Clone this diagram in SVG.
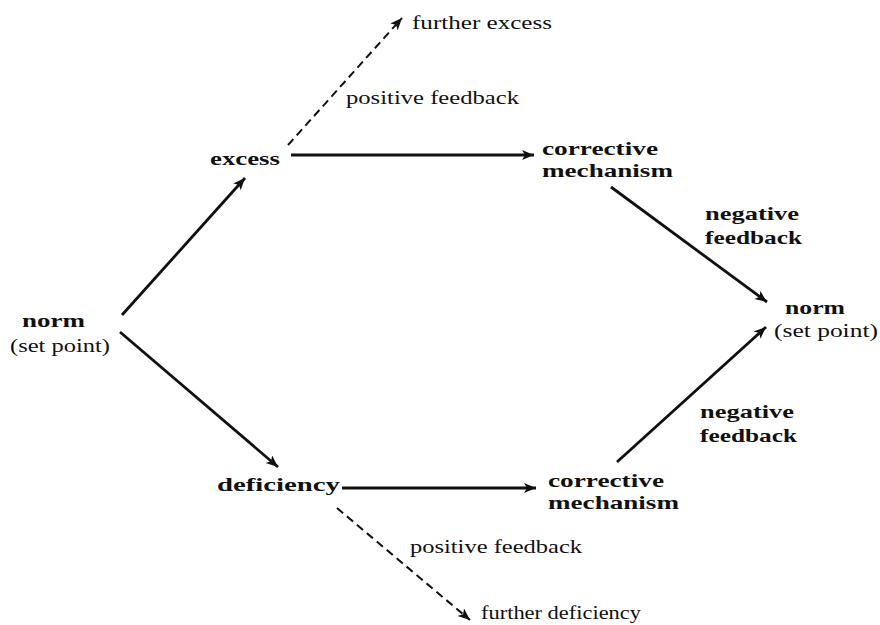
<svg xmlns="http://www.w3.org/2000/svg" width="880" height="625" viewBox="0 0 880 625">
<style>
text{font-family:"Liberation Serif","DejaVu Serif",serif;font-size:19px;fill:#111;}
.b{font-weight:bold;}
.s{stroke:#111;stroke-width:2.8;fill:none;}
.d{stroke:#111;stroke-width:2;fill:none;stroke-dasharray:8,5;}
</style>
<defs>
<marker id="ah" markerUnits="userSpaceOnUse" markerWidth="14" markerHeight="12" refX="12" refY="5" orient="auto">
<path d="M0,0 L12,5 L0,10 L3,5 Z" fill="#111"/>
</marker>
</defs>
<rect width="880" height="625" fill="#fff"/>
<g id="connectors">
<line class="s" x1="122" y1="315" x2="245" y2="178" marker-end="url(#ah)"/>
<line class="s" x1="120" y1="332" x2="278" y2="467" marker-end="url(#ah)"/>
<line class="s" x1="291" y1="155" x2="534" y2="155" marker-end="url(#ah)"/>
<line class="d" x1="288" y1="145" x2="402" y2="18" marker-end="url(#ah)"/>
<line class="s" x1="611" y1="187" x2="767" y2="302" marker-end="url(#ah)"/>
<line class="s" x1="617" y1="462" x2="766" y2="327" marker-end="url(#ah)"/>
<line class="s" x1="342" y1="488" x2="536" y2="488" marker-end="url(#ah)"/>
<line class="d" x1="337" y1="508" x2="470" y2="620" marker-end="url(#ah)"/>
</g>
<g id="norm-left">
<text class="b" x="22" y="327" textLength="63" lengthAdjust="spacingAndGlyphs">norm</text>
<text x="10" y="352" textLength="100" lengthAdjust="spacingAndGlyphs">(set point)</text>
</g>
<g id="excess">
<text class="b" x="210" y="165" textLength="70" lengthAdjust="spacingAndGlyphs">excess</text>
</g>
<g id="further-excess">
<text x="412" y="29" textLength="140" lengthAdjust="spacingAndGlyphs">further excess</text>
</g>
<g id="positive-feedback-top">
<text x="346" y="104" textLength="173" lengthAdjust="spacingAndGlyphs">positive feedback</text>
</g>
<g id="corrective-top">
<text class="b" x="542" y="155" textLength="116" lengthAdjust="spacingAndGlyphs">corrective</text>
<text class="b" x="542" y="177" textLength="131" lengthAdjust="spacingAndGlyphs">mechanism</text>
</g>
<g id="negative-feedback-top">
<text class="b" x="705" y="220" textLength="94" lengthAdjust="spacingAndGlyphs">negative</text>
<text class="b" x="705" y="244" textLength="97" lengthAdjust="spacingAndGlyphs">feedback</text>
</g>
<g id="norm-right">
<text class="b" x="785" y="314" textLength="60" lengthAdjust="spacingAndGlyphs">norm</text>
<text x="774" y="337" textLength="104" lengthAdjust="spacingAndGlyphs">(set point)</text>
</g>
<g id="negative-feedback-bottom">
<text class="b" x="700" y="418" textLength="94" lengthAdjust="spacingAndGlyphs">negative</text>
<text class="b" x="700" y="442" textLength="97" lengthAdjust="spacingAndGlyphs">feedback</text>
</g>
<g id="deficiency">
<text class="b" x="217" y="491" textLength="123" lengthAdjust="spacingAndGlyphs">deficiency</text>
</g>
<g id="corrective-bottom">
<text class="b" x="548" y="487" textLength="116" lengthAdjust="spacingAndGlyphs">corrective</text>
<text class="b" x="548" y="509" textLength="131" lengthAdjust="spacingAndGlyphs">mechanism</text>
</g>
<g id="positive-feedback-bottom">
<text x="410" y="553" textLength="172" lengthAdjust="spacingAndGlyphs">positive feedback</text>
</g>
<g id="further-deficiency">
<text x="481" y="619" textLength="160" lengthAdjust="spacingAndGlyphs">further deficiency</text>
</g>
</svg>
